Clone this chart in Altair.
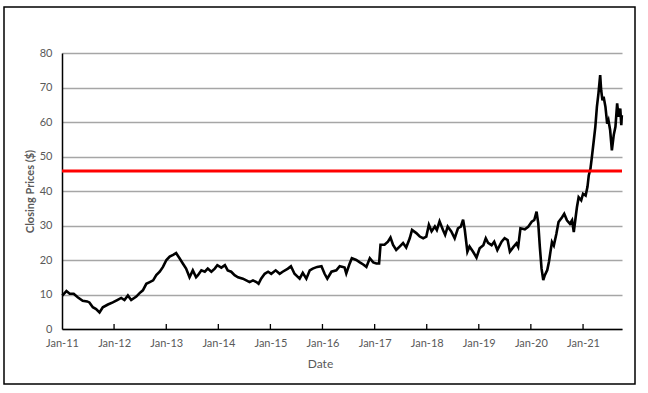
import altair as alt
import pandas as pd

# ---- data ----
dates = [
    "2011-01-03", "2011-02-01", "2011-02-24", "2011-03-24", "2011-04-21", "2011-05-26",
    "2011-06-26", "2011-07-12", "2011-08-05", "2011-08-28", "2011-09-21", "2011-10-14",
    "2011-11-19", "2011-12-23", "2012-01-23", "2012-02-20", "2012-03-14", "2012-04-07",
    "2012-04-30", "2012-06-05", "2012-06-28", "2012-07-21", "2012-08-14", "2012-09-07",
    "2012-10-01", "2012-10-23", "2012-11-16", "2012-12-09", "2013-01-02", "2013-01-25",
    "2013-02-18", "2013-03-11", "2013-04-04", "2013-04-27", "2013-05-20", "2013-06-13",
    "2013-07-06", "2013-07-29", "2013-08-11", "2013-09-04", "2013-09-28", "2013-10-19",
    "2013-11-13", "2013-12-07", "2013-12-25", "2014-01-22", "2014-02-16", "2014-03-08",
    "2014-04-01", "2014-04-25", "2014-05-19", "2014-06-22", "2014-07-16", "2014-08-08",
    "2014-09-01", "2014-09-25", "2014-10-10", "2014-10-28", "2014-11-22", "2014-12-16",
    "2015-01-07", "2015-02-07", "2015-03-07", "2015-03-28", "2015-05-04", "2015-05-25",
    "2015-06-19", "2015-07-25", "2015-08-16", "2015-09-10", "2015-10-04", "2015-10-25",
    "2015-11-25", "2015-12-25", "2016-01-16", "2016-02-04", "2016-03-04", "2016-04-07",
    "2016-05-01", "2016-05-23", "2016-06-04", "2016-06-16", "2016-07-10", "2016-07-25",
    "2016-08-25", "2016-09-19", "2016-10-13", "2016-11-04", "2016-11-28", "2016-12-22",
    "2017-01-13", "2017-02-01", "2017-02-11", "2017-03-11", "2017-04-04", "2017-04-22",
    "2017-05-10", "2017-06-01", "2017-06-25", "2017-07-19", "2017-08-10", "2017-09-04",
    "2017-09-20", "2017-10-20", "2017-11-13", "2017-12-07", "2017-12-29", "2018-01-16",
    "2018-02-04", "2018-02-27", "2018-03-13", "2018-04-01", "2018-04-25", "2018-05-10",
    "2018-05-28", "2018-06-22", "2018-07-16", "2018-08-08", "2018-08-28", "2018-09-13",
    "2018-09-25", "2018-10-13", "2018-10-28", "2018-11-22", "2018-12-16", "2019-01-07",
    "2019-02-02", "2019-02-19", "2019-03-07", "2019-04-01", "2019-04-19", "2019-05-11",
    "2019-06-10", "2019-07-01", "2019-07-22", "2019-08-07", "2019-09-01", "2019-09-22",
    "2019-10-04", "2019-10-20", "2019-11-20", "2019-12-13", "2020-01-07", "2020-01-25",
    "2020-02-10", "2020-02-22", "2020-03-04", "2020-03-16", "2020-03-28", "2020-04-08",
    "2020-04-25", "2020-05-07", "2020-05-16", "2020-05-28", "2020-06-10", "2020-06-28",
    "2020-07-13", "2020-08-07", "2020-08-22", "2020-09-10", "2020-10-01", "2020-10-16",
    "2020-10-28", "2020-11-10", "2020-11-19", "2020-12-01", "2020-12-19", "2021-01-01",
    "2021-01-19", "2021-02-01", "2021-02-10", "2021-02-22", "2021-03-04", "2021-03-16",
    "2021-03-28", "2021-04-08", "2021-04-19", "2021-05-01", "2021-05-08", "2021-05-17",
    "2021-05-25", "2021-06-07", "2021-06-19", "2021-06-28", "2021-07-10", "2021-07-22",
    "2021-08-04", "2021-08-16", "2021-08-28", "2021-09-07", "2021-09-19", "2021-09-26",
    "2021-09-30",
]
prices = [
    9.7, 11.0, 10.2, 10.2, 9.2, 8.2,
    8.0, 7.7, 6.3, 5.8, 4.8, 6.3,
    7.1, 7.7, 8.4, 9.0, 8.4, 9.7,
    8.4, 9.4, 10.4, 11.2, 13.1, 13.6,
    14.1, 15.6, 16.6, 18.0, 20.0, 21.0,
    21.5, 22.0, 20.5, 19.0, 17.5, 15.0,
    17.0, 15.0, 15.6, 17.0, 16.6, 17.5,
    16.6, 17.5, 18.5, 17.8, 18.5, 17.0,
    16.6, 15.6, 15.0, 14.6, 14.1, 13.6,
    14.1, 13.6, 13.1, 14.6, 16.0, 16.6,
    16.0, 17.0, 16.0, 16.6, 17.5, 18.2,
    16.0, 14.6, 16.3, 14.6, 17.0, 17.5,
    18.0, 18.2, 16.0, 14.6, 16.6, 17.0,
    18.2, 18.0, 17.8, 16.1, 19.0, 20.5,
    20.0, 19.3, 18.7, 18.0, 20.5, 19.3,
    19.0, 19.0, 24.4, 24.4, 25.3, 26.5,
    24.4, 22.9, 23.9, 24.9, 23.6, 26.3,
    28.7, 27.8, 26.8, 26.3, 26.8, 30.2,
    28.3, 29.7, 28.7, 31.2, 28.7, 27.3,
    29.7, 28.3, 26.3, 29.2, 29.7, 31.7,
    28.7, 22.4, 23.9, 22.4, 20.7, 23.4,
    24.3, 26.3, 25.0, 24.3, 25.3, 22.9,
    25.3, 26.3, 25.8, 22.4, 23.8, 24.8,
    23.8, 29.2, 28.9, 29.6, 31.1, 31.6,
    34.0, 30.6, 23.8, 17.5, 14.2, 15.6,
    17.1, 19.5, 22.0, 25.2, 24.2, 27.6,
    31.0, 32.4, 33.4, 31.5, 30.5, 31.5,
    28.1, 32.4, 35.3, 38.2, 37.3, 39.2,
    38.7, 41.2, 44.5, 46.5, 49.9, 54.2,
    58.6, 64.4, 68.3, 73.6, 69.2, 66.3,
    67.3, 64.4, 59.5, 60.5, 57.6, 51.8,
    56.2, 58.6, 65.4, 61.5, 63.9, 59.1,
    62.0,
]
threshold = [45.8]
tick_years = list(range(2011, 2022))
y_ticks = [0, 10, 20, 30, 40, 50, 60, 70, 80]

df = pd.DataFrame({"Date": dates, "Close": prices})
thr_df = pd.DataFrame({"Close": threshold})
tick_df = pd.DataFrame({"Date": [f"{y}-01-01" for y in tick_years[1:]]})

FONT = "Lato"
GRAY = "#595959"

x_scale = alt.Scale(
    type="utc",
    domain=[alt.DateTime(year=2011, month=1, date=1, utc=True),
            alt.DateTime(year=2021, month=10, date=1, utc=True)],
)
y_scale = alt.Scale(domain=[0, 80], nice=False)

x_axis = alt.Axis(
    values=[alt.DateTime(year=y, month=1, date=1, utc=True) for y in tick_years],
    labelExpr="utcFormat(datum.value, '%b-%y')",
    labelFlush=False,
    labelOverlap=False,
    grid=False,
    ticks=False,
    domainColor="black",
    domainWidth=1.5,
    labelColor=GRAY,
    labelFont=FONT,
    labelFontSize=11,
    labelPadding=8,
    title="Date",
    titleFont=FONT,
    titleFontSize=12,
    titleFontWeight="normal",
    titleColor=GRAY,
    titleX=258,
    titleY=38,
    titleBaseline="alphabetic",
)
y_axis = alt.Axis(
    values=y_ticks,
    grid=True,
    gridColor="#a6a6a6",
    gridWidth=1.3,
    ticks=False,
    domainColor="black",
    domainWidth=1.5,
    labelColor=GRAY,
    labelFont=FONT,
    labelFontSize=11,
    labelPadding=10,
    title="Closing Prices ($)",
    titleFont=FONT,
    titleFontSize=11,
    titleFontWeight="bold",
    titleColor=GRAY,
    titleX=-32,
    titleY=138,
    titleBaseline="middle",
)

line = alt.Chart(df).mark_line(color="black", strokeWidth=2.6).encode(
    x=alt.X("Date:T", scale=x_scale, axis=x_axis, title="Date"),
    y=alt.Y("Close:Q", scale=y_scale, axis=y_axis, title="Closing Prices ($)"),
)

xticks = alt.Chart(tick_df).mark_rule(color="black", strokeWidth=1.3).encode(
    x=alt.X("Date:T", scale=x_scale, axis=x_axis, title="Date"),
    y=alt.value(271),
    y2=alt.value(276),
)

red = alt.Chart(thr_df).mark_rule(color="#ff0000", strokeWidth=2.8).encode(
    y=alt.Y("Close:Q", scale=y_scale, axis=y_axis, title="Closing Prices ($)"),
)

border = alt.Chart(thr_df).mark_rect(
    fill=None, stroke="black", strokeWidth=1.5, clip=False
).encode(
    x=alt.value(-58), x2=alt.value(573),
    y=alt.value(-46), y2=alt.value(331),
)

chart = alt.layer(line, xticks, red, border).properties(
    width=560,
    height=276,
    padding={"left": 62, "top": 53, "right": 26, "bottom": 64},
    autosize=alt.AutoSizeParams(type="none"),
    background="white",
).configure_view(stroke=None)

chart.save("out.html", embed_options={"renderer": "svg", "actions": False})
